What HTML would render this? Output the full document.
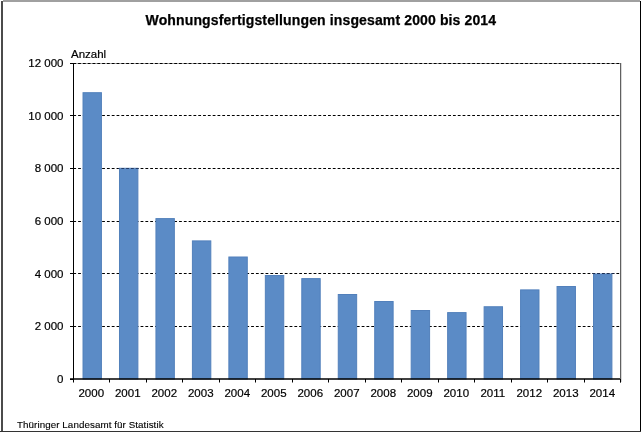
<!DOCTYPE html>
<html><head><meta charset="utf-8"><style>
html,body{margin:0;padding:0;background:#fff;}
body{width:643px;height:432px;overflow:hidden;position:relative;}
svg{position:absolute;left:0;top:0;will-change:transform;}
text{font-family:"Liberation Sans",sans-serif;fill:#000;}
</style></head><body>
<svg width="643" height="432" viewBox="0 0 643 432">
<rect x="0" y="0" width="643" height="432" fill="#fff"/>
<g stroke="#000" stroke-width="1" stroke-dasharray="2.8 2.006" fill="none"><line x1="73.3" y1="115.5" x2="620" y2="115.5"/><line x1="73.3" y1="168.5" x2="620" y2="168.5"/><line x1="73.3" y1="221.5" x2="620" y2="221.5"/><line x1="73.3" y1="273.5" x2="620" y2="273.5"/><line x1="73.3" y1="326.5" x2="620" y2="326.5"/></g>
<g fill="#5b8bc6" stroke="#5280bb" stroke-width="1"><rect x="83.02" y="92.70" width="18.40" height="286.30"/><rect x="119.49" y="168.30" width="18.40" height="210.70"/><rect x="155.95" y="218.60" width="18.40" height="160.40"/><rect x="192.41" y="240.90" width="18.40" height="138.10"/><rect x="228.87" y="257.00" width="18.40" height="122.00"/><rect x="265.34" y="275.50" width="18.40" height="103.50"/><rect x="301.80" y="278.60" width="18.40" height="100.40"/><rect x="338.26" y="294.50" width="18.40" height="84.50"/><rect x="374.73" y="301.50" width="18.40" height="77.50"/><rect x="411.19" y="310.50" width="18.40" height="68.50"/><rect x="447.65" y="312.60" width="18.40" height="66.40"/><rect x="484.12" y="306.75" width="18.40" height="72.25"/><rect x="520.58" y="289.90" width="18.40" height="89.10"/><rect x="557.04" y="286.50" width="18.40" height="92.50"/><rect x="593.50" y="274.00" width="18.40" height="105.00"/></g>
<defs><clipPath id="c1"><rect x="118" y="160" width="22" height="20"/><rect x="591" y="265" width="24" height="20"/></clipPath></defs>
<g clip-path="url(#c1)" stroke="#1a2a50" stroke-opacity="0.8" stroke-width="1" stroke-dasharray="2.8 2.006" fill="none"><line x1="73.3" y1="168.5" x2="620" y2="168.5"/><line x1="73.3" y1="273.5" x2="620" y2="273.5"/></g>
<line x1="73.3" y1="63.5" x2="620" y2="63.5" stroke="#000" stroke-width="1" stroke-dasharray="2.8 2.006"/>
<line x1="73.3" y1="63.5" x2="620" y2="63.5" stroke="#000" stroke-opacity="0.35" stroke-width="1"/>
<g stroke="#000" stroke-width="1" fill="none">
<line x1="73.5" y1="63" x2="73.5" y2="380"/>
<line x1="70" y1="379" x2="621" y2="379" stroke-width="1.5"/>
<line x1="620.5" y1="63" x2="620.5" y2="382.5" stroke="#606060"/><line x1="621.5" y1="63" x2="621.5" y2="382" stroke="#d8d8d8"/>
<line x1="70" y1="63.5" x2="73" y2="63.5"/><line x1="70" y1="115.5" x2="73" y2="115.5"/><line x1="70" y1="168.5" x2="73" y2="168.5"/><line x1="70" y1="221.5" x2="73" y2="221.5"/><line x1="70" y1="273.5" x2="73" y2="273.5"/><line x1="70" y1="326.5" x2="73" y2="326.5"/><line x1="70" y1="379.5" x2="73" y2="379.5"/><line x1="73.5" y1="379" x2="73.5" y2="382.5"/><line x1="109.5" y1="379" x2="109.5" y2="382.5"/><line x1="146.5" y1="379" x2="146.5" y2="382.5"/><line x1="182.5" y1="379" x2="182.5" y2="382.5"/><line x1="219.5" y1="379" x2="219.5" y2="382.5"/><line x1="255.5" y1="379" x2="255.5" y2="382.5"/><line x1="292.5" y1="379" x2="292.5" y2="382.5"/><line x1="328.5" y1="379" x2="328.5" y2="382.5"/><line x1="365.5" y1="379" x2="365.5" y2="382.5"/><line x1="401.5" y1="379" x2="401.5" y2="382.5"/><line x1="438.5" y1="379" x2="438.5" y2="382.5"/><line x1="474.5" y1="379" x2="474.5" y2="382.5"/><line x1="511.5" y1="379" x2="511.5" y2="382.5"/><line x1="547.5" y1="379" x2="547.5" y2="382.5"/><line x1="584.5" y1="379" x2="584.5" y2="382.5"/><line x1="620.5" y1="379" x2="620.5" y2="382.5"/>
</g>
<g font-size="11.5" text-anchor="end" stroke="#000" stroke-width="0.2"><text x="63.5" y="66.90">12 000</text><text x="63.5" y="119.57">10 000</text><text x="63.5" y="172.23">8 000</text><text x="63.5" y="224.90">6 000</text><text x="63.5" y="277.57">4 000</text><text x="63.5" y="330.23">2 000</text><text x="63.5" y="382.90">0</text></g>
<g font-size="11.5" text-anchor="middle" stroke="#000" stroke-width="0.2"><text x="91.25" y="396.6">2000</text><text x="127.75" y="396.6">2001</text><text x="164.25" y="396.6">2002</text><text x="200.75" y="396.6">2003</text><text x="237.25" y="396.6">2004</text><text x="273.75" y="396.6">2005</text><text x="310.25" y="396.6">2006</text><text x="346.75" y="396.6">2007</text><text x="383.25" y="396.6">2008</text><text x="419.75" y="396.6">2009</text><text x="456.25" y="396.6">2010</text><text x="492.75" y="396.6">2011</text><text x="529.25" y="396.6">2012</text><text x="565.75" y="396.6">2013</text><text x="602.25" y="396.6">2014</text></g>
<text x="71" y="57.7" font-size="11.5" stroke="#000" stroke-width="0.2">Anzahl</text>
<text x="320.9" y="24.7" font-size="14" letter-spacing="0.13" font-weight="bold" text-anchor="middle" stroke="#000" stroke-width="0.25">Wohnungsfertigstellungen insgesamt 2000 bis 2014</text>
<text x="17" y="427.6" font-size="9.8" letter-spacing="0.07" stroke="#000" stroke-width="0.12">Thüringer Landesamt für Statistik</text>
<rect x="3" y="0" width="637" height="2" fill="#a0a0a0"/>
<rect x="1" y="1" width="2" height="431" fill="#4b4b4b"/>
<rect x="640" y="1" width="1" height="431" fill="#000"/>
<rect x="0" y="431" width="641" height="1" fill="#333"/>
</svg>
</body></html>
